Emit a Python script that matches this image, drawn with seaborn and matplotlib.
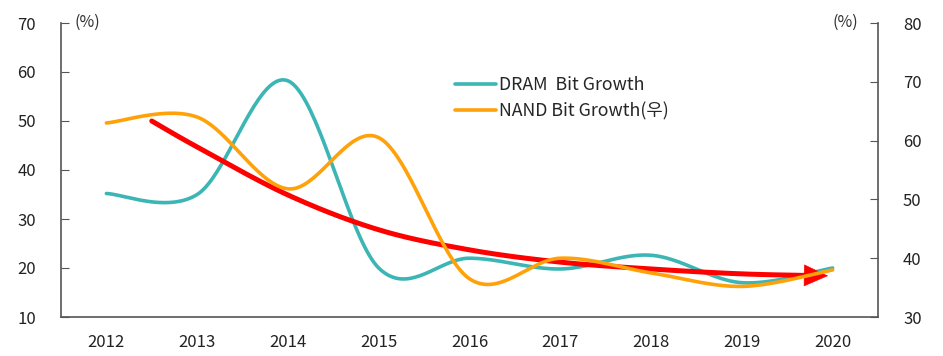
import numpy as np
import pandas as pd
import matplotlib
matplotlib.use("Agg")
import matplotlib.pyplot as plt
import seaborn as sns
from matplotlib.lines import Line2D

years = ["2012", "2013", "2014", "2015", "2016", "2017", "2018", "2019", "2020"]
dram = [35.2, 35.0, 58.2, 20.0, 22.0, 19.8, 22.6, 17.0, 20.0]
nand = [63.0, 64.0, 51.8, 60.5, 36.5, 40.0, 37.5, 35.2, 38.0]
trend_x = [0.5, 1.0, 2.0, 3.0, 4.0, 5.0, 6.0, 7.0, 7.95]
trend_y = [50.0, 44.7, 34.9, 27.8, 23.7, 21.2, 19.8, 18.8, 18.4]

sns.set_style("white")
plt.rcParams['font.family'] = ['Noto Sans CJK KR', 'DejaVu Sans']

def smooth(xs, ys, n=40):
    xs = np.asarray(xs, float); ys = np.asarray(ys, float)
    P = np.column_stack([xs, ys])
    P = np.vstack([P[0], P, P[-1]])
    out = []
    for i in range(1, len(P) - 2):
        p0, p1, p2, p3 = P[i-1], P[i], P[i+1], P[i+2]
        c1 = p1 + (p2 - p0) / 6.0
        c2 = p2 - (p3 - p1) / 6.0
        t = np.linspace(0, 1, n, endpoint=(i == len(P) - 3))[:, None]
        b = (1-t)**3*p1 + 3*(1-t)**2*t*c1 + 3*(1-t)*t**2*c2 + t**3*p2
        out.append(b)
    out = np.vstack(out)
    return out[:, 0], out[:, 1]

idx = np.arange(len(years))
dx, dy = smooth(idx, dram)
nx, ny = smooth(idx, nand)
tx, ty = smooth(trend_x, trend_y)

fig = plt.figure(figsize=(9.43, 3.56), dpi=100)
ax = fig.add_axes([61/943, 1-317/356, (878-61)/943, (317-23)/356])
ax2 = ax.twinx()

teal = "#3CB5B5"
orange = "#FFA20A"
red = "#FF0000"

sns.lineplot(x=dx, y=dy, ax=ax, sort=False, color=teal, lw=2.6, legend=False)
sns.lineplot(x=nx, y=ny, ax=ax2, sort=False, color=orange, lw=2.6, legend=False)

# trend arrow: shaft + head
cut = tx[-1] - 0.17
m = tx <= cut
sx = np.append(tx[m], cut)
sy = np.append(ty[m], np.interp(cut, tx, ty))
sns.lineplot(x=sx, y=sy, ax=ax, sort=False, color=red, lw=3.6, legend=False)
ax.annotate("", xy=(tx[-1], ty[-1]), xytext=(sx[-1], sy[-1]),
            arrowprops=dict(arrowstyle="-|>,head_length=1.1,head_width=0.5", color=red, lw=0.5,
                            shrinkA=0, shrinkB=0, mutation_scale=15))

ax.set_xlim(-0.5, 8.5)
ax.set_ylim(10, 70)
ax2.set_ylim(30, 80)
ax.set_yticks(range(10, 71, 10))
ax2.set_yticks(range(30, 81, 10))
ax.set_xticks(idx)
ax.set_xticklabels(years)
ax.set_xticks(np.arange(0.5, 8.0, 1.0), minor=True)

sc = "#555555"
for a in (ax, ax2):
    for s in a.spines.values():
        s.set_color(sc)
        s.set_linewidth(1.2)
    a.spines['top'].set_visible(False)
ax.spines['right'].set_visible(False)
ax2.spines['left'].set_visible(False)
ax2.spines['bottom'].set_visible(False)

ax.tick_params(axis='y', direction='in', length=6, color=sc, labelsize=12, pad=18, labelcolor="#222222")
ax2.tick_params(axis='y', direction='in', length=6, color=sc, labelsize=12, pad=18, labelcolor="#222222")
ax.tick_params(axis='x', which='major', length=0, labelsize=12, pad=12, labelcolor="#222222")
ax.tick_params(axis='x', which='minor', direction='in', length=7, color=sc)
ax.set_xlabel(""); ax.set_ylabel(""); ax2.set_ylabel("")

fig.text(87/943, 1-22/356, "(%)", fontsize=11.5, ha='center', va='center', color="#333333")
fig.text(845/943, 1-22/356, "(%)", fontsize=11.5, ha='center', va='center', color="#333333")

handles = [Line2D([0], [0], color=teal, lw=2.6), Line2D([0], [0], color=orange, lw=2.6)]
fig.legend(handles, ["DRAM  Bit Growth", "NAND Bit Growth(우)"], loc='upper left',
           bbox_to_anchor=(455/943, 1-76/356), frameon=False, fontsize=12.8,
           handlelength=2.3, handletextpad=0.15, labelspacing=0.45, borderaxespad=0, borderpad=0)

fig.savefig("out.png", dpi=100)
